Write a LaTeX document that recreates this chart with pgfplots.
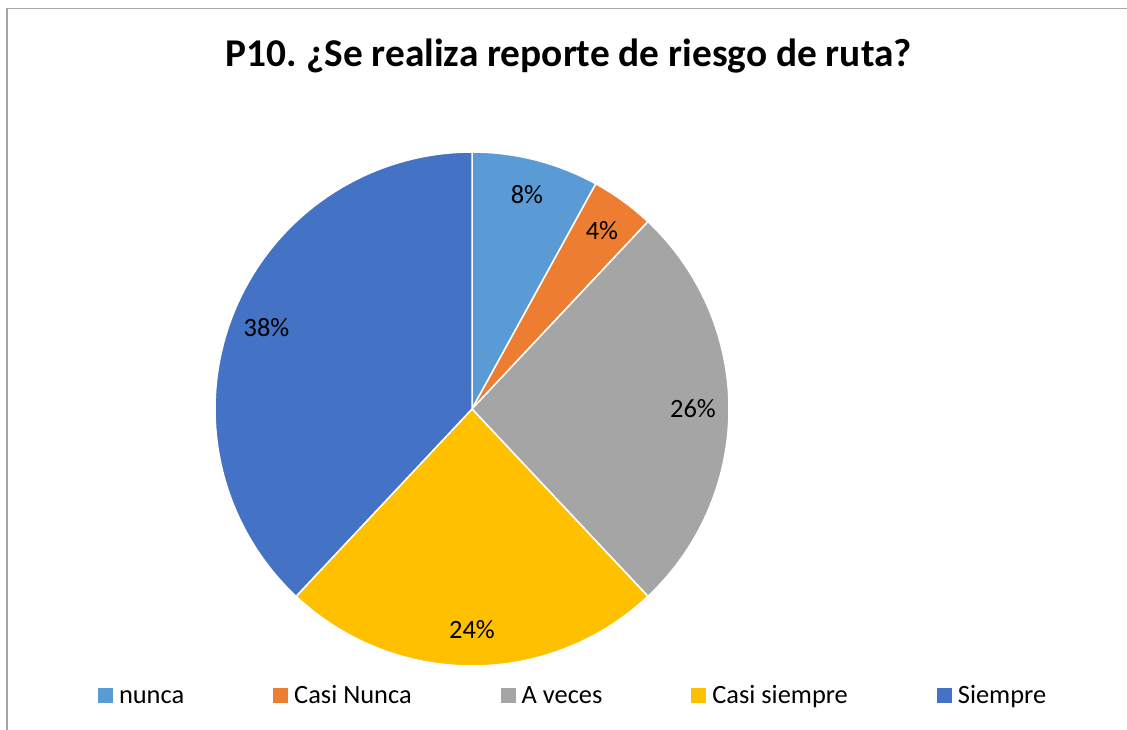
\documentclass[border=0pt]{standalone}
\usepackage{pgfplots}
\pgfplotsset{compat=1.18}
\usepackage{pgfplotstable}
\usepackage{fontspec}
\setmainfont{Carlito}
\frenchspacing
\definecolor{cNunca}{HTML}{5B9BD5}
\definecolor{cCasiNunca}{HTML}{ED7D31}
\definecolor{cAveces}{HTML}{A5A5A5}
\definecolor{cCasiSiempre}{HTML}{FFC000}
\definecolor{cSiempre}{HTML}{4472C4}
\definecolor{frame}{HTML}{A6A6A6}
\pgfplotstableread[col sep=comma]{
label,value
nunca,8
Casi Nunca,4
A veces,26
Casi siempre,24
Siempre,38
}\piedata
\begin{document}
\begin{tikzpicture}
\useasboundingbox (0,0) rectangle (1127bp,730bp);
\draw[frame, line width=1.5bp] (6.75bp,0) -- (6.75bp,721.5bp) -- (1127bp,721.5bp);
\node[font=\bfseries\fontsize{39.5}{46}\selectfont, anchor=base, inner sep=0pt] at (569bp,663bp) {P10. ¿Se realiza reporte de riesgo de ruta?};
\pgfplotstablegetelem{0}{value}\of\piedata \edef\vA{\pgfplotsretval}
\pgfplotstablegetelem{1}{value}\of\piedata \edef\vB{\pgfplotsretval}
\pgfplotstablegetelem{2}{value}\of\piedata \edef\vC{\pgfplotsretval}
\pgfplotstablegetelem{3}{value}\of\piedata \edef\vD{\pgfplotsretval}
\pgfplotstablegetelem{4}{value}\of\piedata \edef\vE{\pgfplotsretval}
\pgfmathsetmacro\aA{90}
\pgfmathsetmacro\aB{\aA-3.6*\vA}
\pgfmathsetmacro\aC{\aB-3.6*\vB}
\pgfmathsetmacro\aD{\aC-3.6*\vC}
\pgfmathsetmacro\aE{\aD-3.6*\vD}
\pgfmathsetmacro\aF{\aE-3.6*\vE}
\pgfmathsetmacro\mA{(\aA+\aB)/2}
\pgfmathsetmacro\mB{(\aB+\aC)/2}
\pgfmathsetmacro\mC{(\aC+\aD)/2}
\pgfmathsetmacro\mD{(\aD+\aE)/2}
\pgfmathsetmacro\mE{(\aE+\aF)/2}
\begin{axis}[
  at={(472bp,321bp)}, anchor=center,
  scale only axis, width=514bp, height=514bp,
  xmin=-1, xmax=1, ymin=-1, ymax=1,
  hide axis, clip=false,
  legend columns=5,
  legend image code/.code={\fill[#1,draw=none] (0bp,0bp) rectangle (15bp,15bp);},
  legend style={draw=none, fill=none, inner sep=0pt, outer sep=0pt,
    at={(-0.2276,-0.072)}, anchor=south west,
    font=\fontsize{26.5}{31}\selectfont,
    nodes={inner sep=0pt, outer sep=0pt, text depth=0pt},
    cells={anchor=base west},
    /tikz/every odd column/.append style={column sep=6bp},
    /tikz/every even column/.append style={column sep=89bp}},
]
\addplot[fill=cNunca, draw=white, line width=1.5bp, domain=\aB:\aA, samples=60, variable=\t] ({cos(t)},{sin(t)}) -- (axis cs:0,0) -- cycle;
\addlegendentry{nunca}
\addplot[fill=cCasiNunca, draw=white, line width=1.5bp, domain=\aC:\aB, samples=30, variable=\t] ({cos(t)},{sin(t)}) -- (axis cs:0,0) -- cycle;
\addlegendentry{Casi Nunca}
\addplot[fill=cAveces, draw=white, line width=1.5bp, domain=\aD:\aC, samples=120, variable=\t] ({cos(t)},{sin(t)}) -- (axis cs:0,0) -- cycle;
\addlegendentry{A veces}
\addplot[fill=cCasiSiempre, draw=white, line width=1.5bp, domain=\aE:\aD, samples=120, variable=\t] ({cos(t)},{sin(t)}) -- (axis cs:0,0) -- cycle;
\addlegendentry{Casi siempre}
\addplot[fill=cSiempre, draw=white, line width=1.5bp, domain=\aF:\aE, samples=160, variable=\t] ({cos(t)},{sin(t)}) -- (axis cs:0,0) -- cycle;
\addlegendentry{Siempre}
\tikzset{lbl/.style={font=\fontsize{26.5}{31}\selectfont, inner sep=0pt}}
\node[lbl] at (axis cs:{0.86*cos(\mA)},{0.86*sin(\mA)}) {\vA\%};
\node[lbl] at (axis cs:{0.86*cos(\mB)},{0.86*sin(\mB)}) {\vB\%};
\node[lbl] at (axis cs:{0.86*cos(\mC)},{0.86*sin(\mC)}) {\vC\%};
\node[lbl] at (axis cs:{0.86*cos(\mD)},{0.86*sin(\mD)}) {\vD\%};
\node[lbl] at (axis cs:{0.86*cos(\mE)},{0.86*sin(\mE)}) {\vE\%};
\end{axis}
\end{tikzpicture}
\end{document}
